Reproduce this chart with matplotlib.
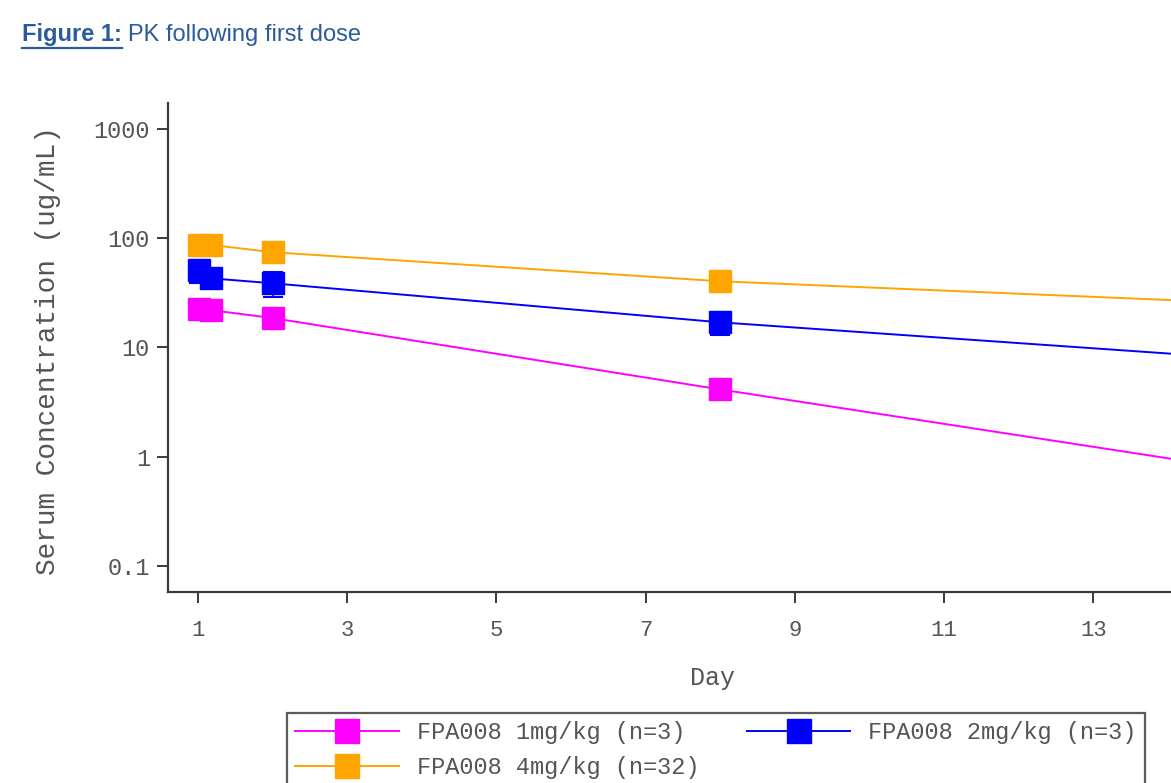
import matplotlib
matplotlib.use("Agg")
import matplotlib.pyplot as plt
from matplotlib.lines import Line2D
import numpy as np

# ---- data ----
days = [1.02, 1.17, 2, 8, 15]
conc_1mg = [22.4, 22.0, 18.6, 4.13, 0.76]
conc_2mg = [50.9, 43.0, 38.7, 17.0, 7.9]
conc_4mg = [86.0, 87.0, 74.5, 40.4, 25.5]
err_2mg = [12.0, 8.0, 10.0, 4.0, 0.0]
err_4mg = [6.0, 0.0, 0.0, 0.0, 0.0]
err_1mg = [0.0, 0.0, 0.0, 0.0, 0.0]
labels = ["FPA008 1mg/kg (n=3)", "FPA008 2mg/kg (n=3)", "FPA008 4mg/kg (n=32)"]
colors = ["#FF00FF", "#0000FF", "#FFA500"]
xticks = [1, 3, 5, 7, 9, 11, 13]
yticks = [0.1, 1, 10, 100, 1000]
yticklabels = ["0.1", "1", "10", "100", "1000"]

W, H = 1171, 783
fig = plt.figure(figsize=(W / 100, H / 100), dpi=100)
ax = fig.add_axes([168 / W, 1 - 592 / H, 1 - 168 / W, (592 - 103) / H])

mono = "Liberation Mono"
axcol = "#3a3a3a"
txtcol = "#555555"

series = [(conc_1mg, err_1mg), (conc_2mg, err_2mg), (conc_4mg, err_4mg)]
handles = []
for (vals, errs), c, lab in zip(series, colors, labels):
    ax.errorbar(days, vals, yerr=errs, fmt="none", ecolor=c, elinewidth=1.2,
                capsize=7, capthick=1.5, zorder=2)
    ax.plot(days, vals, color=c, lw=1.4, zorder=3)
    ax.plot(days, vals, ls="none", marker="s", ms=15.5, mfc=c, mec=c, zorder=4)
    handles.append(Line2D([], [], color=c, lw=1.4, marker="s", ms=17, mfc=c, mec=c, label=lab))

ax.set_yscale("log")
ax.set_xlim(0.598, 14.04)
ax.set_ylim(10 ** -1.238, 10 ** 3.238)
ax.set_xticks(xticks)
ax.set_xticklabels([str(t) for t in xticks], fontfamily=mono, fontsize=16, color=txtcol)
ax.set_yticks(yticks)
ax.set_yticklabels(yticklabels, fontfamily=mono, fontsize=17, color=txtcol)
ax.yaxis.set_minor_locator(matplotlib.ticker.NullLocator())

for s in ["top", "right"]:
    ax.spines[s].set_visible(False)
for s in ["left", "bottom"]:
    ax.spines[s].set_color(axcol)
    ax.spines[s].set_linewidth(1.6)
ax.tick_params(axis="both", direction="out", length=8, width=1.4, color=axcol)
ax.tick_params(axis="x", pad=12)
ax.tick_params(axis="y", pad=5)

ax.set_xlabel("Day", fontfamily=mono, fontsize=18, color=txtcol, va="center")
ax.xaxis.set_label_coords((712 - 168) / (W - 168), -(678 - 592) / (592 - 103))
ax.set_ylabel("Serum Concentration (ug/mL)", fontfamily=mono, fontsize=20, color=txtcol, va="center")
ax.yaxis.set_label_coords(-(168 - 48) / (W - 168), (592 - 351) / (592 - 103))

# legend (row-major order: 1mg, 2mg / 4mg)
order = [0, 2, 1]
leg = fig.legend(handles=[handles[i] for i in order], loc="upper left", ncol=2,
                 bbox_to_anchor=(287 / W, 1 - 713 / H), bbox_transform=fig.transFigure,
                 prop={"family": mono, "size": 17}, frameon=True, fancybox=False,
                 edgecolor="#333333", handlelength=4.4, handletextpad=0.75,
                 columnspacing=2.0, borderaxespad=0, borderpad=0.35, labelspacing=0.5,
                 labelcolor=txtcol)
leg.get_frame().set_linewidth(1.6)

# title with underlined bold part
tcol = "#2A5B9B"
t1 = fig.text(22 / W, 1 - 35 / H, "Figure 1:", fontfamily="Liberation Sans", fontsize=17,
              fontweight="bold", color=tcol, va="center", ha="left")
fig.canvas.draw()
r = fig.canvas.get_renderer()
bb = t1.get_window_extent(r)
fig.text((bb.x1 + 6) / W, 1 - 35 / H, "PK following first dose", fontfamily="Liberation Sans",
         fontsize=17, color=tcol, va="center", ha="left")
fig.add_artist(Line2D([bb.x0 / W, bb.x1 / W], [(bb.y0 - 1) / H, (bb.y0 - 1) / H],
                      color=tcol, lw=1.6, transform=fig.transFigure))

fig.savefig("out.png", dpi=100)
